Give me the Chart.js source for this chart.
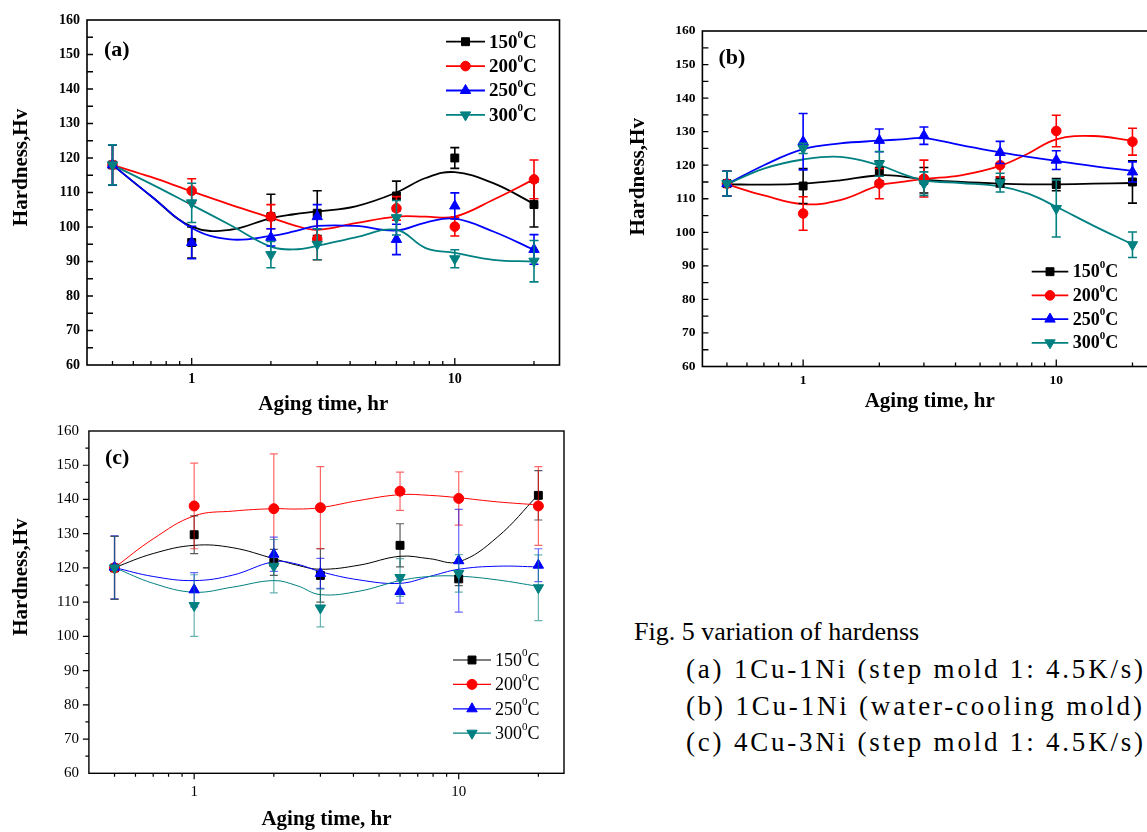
<!DOCTYPE html>
<html>
<head>
<meta charset="utf-8">
<script src="https://cdn.jsdelivr.net/npm/chart.js@4.4.1/dist/chart.umd.min.js"></script>
<style>
html, body { margin:0; padding:0; width:1147px; height:832px; overflow:hidden; background:#fff; }
canvas { position:absolute; }
.cap { position:absolute; font-family:'Liberation Serif','Times New Roman',serif; font-size:26px; line-height:30px; white-space:nowrap; color:#000; }
.sub { font-size:27px; letter-spacing:2.8px; }
</style>
</head>
<body>
<canvas id="ca" width="575" height="418" style="left:0;top:0;width:575px;height:418px"></canvas>
<canvas id="cb" width="600" height="418" style="left:620px;top:0;width:600px;height:418px"></canvas>
<canvas id="cc" width="575" height="420" style="left:0;top:412px;width:575px;height:420px"></canvas>
<div class="cap" style="left:634px;top:617px">Fig. 5 variation of hardenss</div>
<div class="cap sub" style="left:686px;top:654px">(a) 1Cu-1Ni (step mold 1: 4.5K/s)</div>
<div class="cap sub" style="left:686px;top:691px">(b) 1Cu-1Ni (water-cooling mold)</div>
<div class="cap sub" style="left:686px;top:727px">(c) 4Cu-3Ni (step mold 1: 4.5K/s)</div>
<script>
// ---------------- DATA ----------------
const times = [0.5, 1, 2, 3, 6, 10, 20];
const curveTimes = [0.5, 0.7, 1, 1.4, 2, 2.45, 3, 4.2, 6, 7.75, 10, 14, 20];
const tempLabels = ['150', '200', '250', '300'];
const xTickValues = [1, 10];
const xTickLabels = ['1', '10'];
const xMinorTicks = [0.5, 0.6, 0.7, 0.8, 0.9, 2, 3, 4, 5, 6, 7, 8, 9, 20];
const yMin = 60, yMax = 160, yStep = 10, yMinorStep = 5;

// Panel (a) 1Cu-1Ni step mold
const a150 = [118, 95.5, 103, 104, 109, 120, 106.5];
const a150Err = [5.8, 4.5, 6.5, 6.5, 4.3, 3, 6.5];
const a200 = [118, 110.5, 103, 96.5, 105.4, 100.1, 113.8];
const a200Err = [5.8, 3.5, 3.5, 6, 3.4, 2.7, 5.6];
const a250 = [118, 95.5, 97, 103, 96.4, 106.1, 93.5];
const a250Err = [5.8, 4.7, 2.5, 3.5, 4.4, 3.8, 4.3];
const a300 = [118, 107, 92, 95, 102.7, 90.8, 90.1];
const a300Err = [5.8, 5.7, 3.8, 4.5, 5, 2.6, 6];
const a150Curve = [118, 109, 100.1, 99.2, 102.6, 103.7, 104.5, 106, 110, 114.2, 115.9, 112.7, 106.7];
const a200Curve = [118, 114.5, 110.3, 106.5, 102.7, 100.5, 99.2, 101.1, 103, 103, 103, 107.9, 113.8];
const a250Curve = [118, 109, 99.7, 96.4, 97.4, 98.7, 100.3, 100.3, 99, 101.3, 102.4, 98.7, 93.4];
const a300Curve = [118, 112.5, 106.4, 100.6, 94.3, 93.5, 94.5, 97, 99.2, 93.9, 92.5, 90.5, 90];

// Panel (b) 1Cu-1Ni water-cooling mold
const b150 = [114.5, 113.8, 118.3, 115.5, 115, 114.2, 115];
const b150Err = [3.7, 5.2, 3, 3.8, 1.5, 1.8, 6.3];
const b200 = [114.5, 105.6, 114.5, 116, 120, 130.2, 127];
const b200Err = [3.7, 5, 4.5, 5.5, 3.5, 4.7, 4];
const b250 = [114.5, 127, 127.4, 128.8, 123.8, 121.5, 118];
const b250Err = [3.7, 8.4, 3.4, 2.6, 3.3, 2.8, 3];
const b300 = [114.5, 125, 120.4, 114.5, 114.8, 107.1, 96.3];
const b300Err = [3.7, 1.5, 3.7, 3.5, 2.8, 8.5, 3.8];
const b150Curve = [114.3, 114.2, 114.5, 115.5, 117, 116.7, 115.7, 115, 114.5, 114.3, 114.3, 114.5, 114.7];
const b200Curve = [114.3, 111, 108.4, 109.6, 114, 115, 115.9, 117, 119.8, 123.5, 127.7, 128.7, 127.3];
const b250Curve = [114.3, 120, 124.8, 126.5, 127.3, 127.7, 128.1, 126, 123.8, 122.5, 121.3, 119.7, 118.3];
const b300Curve = [114.3, 119, 121.7, 122.5, 120, 117.5, 115.5, 114.7, 113.7, 111.5, 107.6, 102, 96.4];

// Panel (c) 4Cu-3Ni step mold
const c150 = [120, 129.7, 121.6, 117.8, 126.6, 116.8, 141.2];
const c150Err = [9.2, 5.5, 3.8, 7.8, 6.3, 2, 7.2];
const c200 = [120, 138.1, 137.3, 137.6, 142.4, 140.3, 138.1];
const c200Err = [9.2, 12.5, 16, 12, 5.6, 7.8, 11.5];
const c250 = [120.2, 113.6, 124, 118.4, 113.1, 122.1, 120.8];
const c250Err = [9.2, 5, 5, 4.4, 3.4, 15, 4.8];
const c300 = [120, 109, 120.5, 108.3, 117.2, 118.4, 114.2];
const c300Err = [9.2, 9, 7.8, 5.5, 5.5, 5.5, 9.6];
const c150Curve = [120.1, 124.2, 126.6, 125.9, 122.7, 120.8, 119.6, 120.8, 123.4, 122.7, 121.8, 129, 141.4];
const c200Curve = [120.1, 128.5, 135.2, 136.6, 137.3, 137.2, 137.6, 139.7, 141.4, 141.2, 140.5, 139.3, 138.4];
const c250Curve = [120.1, 117.5, 116.3, 117.9, 121.8, 121.1, 118.9, 116.5, 115.5, 117.5, 119.6, 120.5, 120.3];
const c300Curve = [120.1, 115.5, 112.9, 114.4, 116.3, 114.8, 112.2, 113.2, 116.3, 117.5, 117.6, 116.5, 114.6];

// ---------------- STYLE ----------------
const FAM = "'Liberation Serif','Times New Roman',serif";
const COLORS = ['#000000', '#ff0000', '#0000ff', '#008080'];
const ERR_COLORS_C = ['rgba(0,0,0,0.65)', 'rgba(255,0,0,0.6)', 'rgba(0,0,255,0.6)', 'rgba(0,128,128,0.6)'];
const STYLES = ['rect', 'circle', 'triangle', 'triangle'];
const ROTS = [0, 0, 0, 180];

function drawMarker(ctx, k, r, x, y) {
  ctx.fillStyle = COLORS[k];
  ctx.strokeStyle = COLORS[k];
  ctx.lineWidth = 1;
  Chart.helpers.drawPoint(ctx, { pointStyle: STYLES[k], rotation: ROTS[k], radius: r[k], borderWidth: 1 }, x, y);
}

const errorBarPlugin = {
  id: 'errBars',
  beforeDatasetDraw(chart, args, o) {
    const ds = chart.data.datasets[args.index];
    if (!ds.errors) return;
    const ys = chart.scales.y;
    const ctx = chart.ctx;
    ctx.save();
    ctx.strokeStyle = ds.errColor;
    ctx.lineWidth = o.width;
    args.meta.data.forEach((pt, i) => {
      const v = ds.data[i].y, e = ds.errors[i];
      const x = pt.x;
      const yt = ys.getPixelForValue(v + e), yb = ys.getPixelForValue(v - e);
      ctx.beginPath();
      ctx.moveTo(x, yt); ctx.lineTo(x, yb);
      ctx.moveTo(x - o.cap, yt); ctx.lineTo(x + o.cap, yt);
      ctx.moveTo(x - o.cap, yb); ctx.lineTo(x + o.cap, yb);
      ctx.stroke();
    });
    ctx.restore();
  }
};

const frameTicksPlugin = {
  id: 'frameTicks',
  afterDatasetsDraw(chart, args, o) {
    const { ctx, chartArea: a, scales: { x, y } } = chart;
    ctx.save();
    ctx.strokeStyle = '#000';
    ctx.lineWidth = o.lw;
    ctx.strokeRect(a.left, a.top, a.right - a.left, a.bottom - a.top);
    const dir = o.inward ? 1 : -1;
    ctx.lineWidth = o.tw;
    ctx.beginPath();
    for (let v = yMin + yMinorStep; v < yMax; v += yMinorStep) {
      const py = y.getPixelForValue(v);
      const len = (v % yStep === 0) ? o.yMajor : o.yMinor;
      ctx.moveTo(a.left, py); ctx.lineTo(a.left + dir * len, py);
    }
    xMinorTicks.forEach(v => {
      const px = x.getPixelForValue(v);
      ctx.moveTo(px, a.bottom); ctx.lineTo(px, a.bottom - dir * o.xMinor);
    });
    xTickValues.forEach(v => {
      const px = x.getPixelForValue(v);
      ctx.moveTo(px, a.bottom); ctx.lineTo(px, a.bottom - dir * o.xMajor);
    });
    ctx.stroke();
    ctx.restore();
  }
};

const textPlugin = {
  id: 'panelText',
  afterDraw(chart, args, o) {
    const { ctx, chartArea: a } = chart;
    ctx.save();
    ctx.fillStyle = '#000';
    ctx.textAlign = 'center';
    ctx.textBaseline = 'middle';
    ctx.font = 'bold 21px ' + FAM;
    ctx.save();
    ctx.translate(o.yTitleX, (a.top + a.bottom) / 2 + o.yTitleShift);
    ctx.rotate(-Math.PI / 2);
    ctx.fillText('Hardness,Hv', 0, 0);
    ctx.restore();
    ctx.fillText('Aging time, hr', (a.left + a.right) / 2, a.bottom + o.xTitleOffset);
    ctx.textAlign = 'left';
    ctx.font = 'bold 22px ' + FAM;
    ctx.fillText(o.tag, a.left + o.tagDx, a.top + o.tagDy);
    // legend
    const L = o.legend;
    tempLabels.forEach((t, k) => {
      const yy = L.y + k * L.dy;
      ctx.strokeStyle = COLORS[k];
      ctx.lineWidth = L.lw;
      ctx.beginPath(); ctx.moveTo(L.x0, yy); ctx.lineTo(L.x1, yy); ctx.stroke();
      drawMarker(ctx, k, o.radius, (L.x0 + L.x1) / 2, yy);
      ctx.fillStyle = '#000';
      const w = L.bold ? 'bold ' : '';
      ctx.textAlign = 'left';
      ctx.textBaseline = 'middle';
      ctx.font = w + L.font + 'px ' + FAM;
      let cx = L.tx;
      ctx.fillText(t, cx, yy + 1);
      cx += ctx.measureText(t).width;
      ctx.font = w + Math.round(L.font * 0.6) + 'px ' + FAM;
      ctx.fillText('0', cx, yy - L.font * 0.36);
      cx += ctx.measureText('0').width;
      ctx.font = w + L.font + 'px ' + FAM;
      ctx.fillText('C', cx, yy + 1);
    });
    ctx.restore();
  }
};

function makePanel(id, marks, errs, curves, st) {
  const datasets = [];
  curves.forEach((c, k) => datasets.push({
    label: 'fit ' + tempLabels[k],
    data: curveTimes.map((t, i) => ({ x: t, y: c[i] })),
    borderColor: COLORS[k], borderWidth: st.lineW, pointRadius: 0,
    tension: 0.4, fill: false, order: 20 - k
  }));
  marks.forEach((m, k) => datasets.push({
    label: tempLabels[k] + '\u2070C',
    data: times.map((t, i) => ({ x: t, y: m[i] })),
    showLine: false, errors: errs[k], errColor: st.errColors[k],
    pointStyle: STYLES[k], pointRotation: ROTS[k], pointRadius: st.radius[k],
    pointBackgroundColor: COLORS[k], pointBorderColor: COLORS[k], pointBorderWidth: 1,
    borderColor: COLORS[k], order: 4 - k
  }));
  const tickFont = { family: FAM, size: st.tickSize, weight: st.bold ? 'bold' : 'normal' };
  new Chart(document.getElementById(id), {
    type: 'line',
    data: { datasets },
    plugins: [errorBarPlugin, frameTicksPlugin, textPlugin],
    options: {
      responsive: false, animation: false, events: [],
      layout: { padding: st.pad },
      plugins: {
        legend: { display: false }, tooltip: { enabled: false },
        errBars: { width: st.errW, cap: st.cap },
        frameTicks: st.frame,
        panelText: st.text
      },
      scales: {
        x: {
          type: 'logarithmic', min: 0.4, max: 25,
          afterBuildTicks: s => { s.ticks = xTickValues.map(v => ({ value: v })); },
          afterFit: s => { s.height = st.xH; },
          grid: { display: false, drawTicks: false }, border: { display: false },
          ticks: { font: tickFont, color: '#000', padding: st.xPad, maxRotation: 0, autoSkip: false,
                   callback: (v) => xTickLabels[xTickValues.indexOf(v)] }
        },
        y: {
          type: 'linear', min: yMin, max: yMax,
          afterFit: s => { s.width = st.yW; },
          grid: { display: false, drawTicks: false }, border: { display: false },
          ticks: { stepSize: yStep, font: tickFont, color: '#000', padding: st.yPad }
        }
      }
    }
  });
}

makePanel('ca', [a150, a200, a250, a300], [a150Err, a200Err, a250Err, a300Err],
  [a150Curve, a200Curve, a250Curve, a300Curve], {
    lineW: 1.8, errW: 1.6, cap: 4.5, radius: [5.6, 4.8, 6, 6], errColors: COLORS,
    bold: true, tickSize: 14, pad: { left: 0, top: 20, right: 15.5, bottom: 0 },
    xH: 53, yW: 87, xPad: 6, yPad: 7,
    frame: { lw: 1.6, tw: 1.3, inward: true, yMajor: 6, yMinor: 6, xMajor: 7, xMinor: 4 },
    text: { yTitleX: 21.5, yTitleShift: -25, xTitleOffset: 40, tag: '(a)', tagDx: 17, tagDy: 30,
      radius: [5.6, 4.8, 6, 6],
      legend: { x0: 446, x1: 485, y: 41.7, dy: 24.4, tx: 489, font: 19, bold: true, lw: 1.8 } }
  });

makePanel('cb', [b150, b200, b250, b300], [b150Err, b200Err, b250Err, b300Err],
  [b150Curve, b200Curve, b250Curve, b300Curve], {
    lineW: 1.8, errW: 1.6, cap: 4.5, radius: [5.6, 4.8, 6, 6], errColors: COLORS,
    bold: true, tickSize: 13.5, pad: { left: 0, top: 31, right: 63, bottom: 0 },
    xH: 51.5, yW: 82.4, xPad: 6, yPad: 7,
    frame: { lw: 1.6, tw: 1.3, inward: true, yMajor: 6, yMinor: 6, xMajor: 7, xMinor: 4 },
    text: { yTitleX: 18.5, yTitleShift: -22, xTitleOffset: 35, tag: '(b)', tagDx: 16, tagDy: 27,
      radius: [5.6, 4.8, 6, 6],
      legend: { x0: 411.7, x1: 448.3, y: 271.7, dy: 23.7, tx: 452.7, font: 18, bold: true, lw: 1.8 } }
  });

makePanel('cc', [c150, c200, c250, c300], [c150Err, c200Err, c250Err, c300Err],
  [c150Curve, c200Curve, c250Curve, c300Curve], {
    lineW: 1, errW: 1.2, cap: 4, radius: [5.6, 5, 6, 6], errColors: ERR_COLORS_C,
    bold: false, tickSize: 15, pad: { left: 0, top: 13.7, right: 11, bottom: 0 },
    xH: 58.7, yW: 88.9, xPad: 10, yPad: 10,
    frame: { lw: 1.4, tw: 1.2, inward: false, yMajor: 6, yMinor: 3.5, xMajor: 6, xMinor: 3.5 },
    text: { yTitleX: 21.5, yTitleShift: -25, xTitleOffset: 46.7, tag: '(c)', tagDx: 16, tagDy: 27.3,
      radius: [5.6, 5, 6, 6],
      legend: { x0: 453, x1: 491, y: 248, dy: 24.4, tx: 495, font: 18, bold: false, lw: 1.2 } }
  });
</script>
</body>
</html>
